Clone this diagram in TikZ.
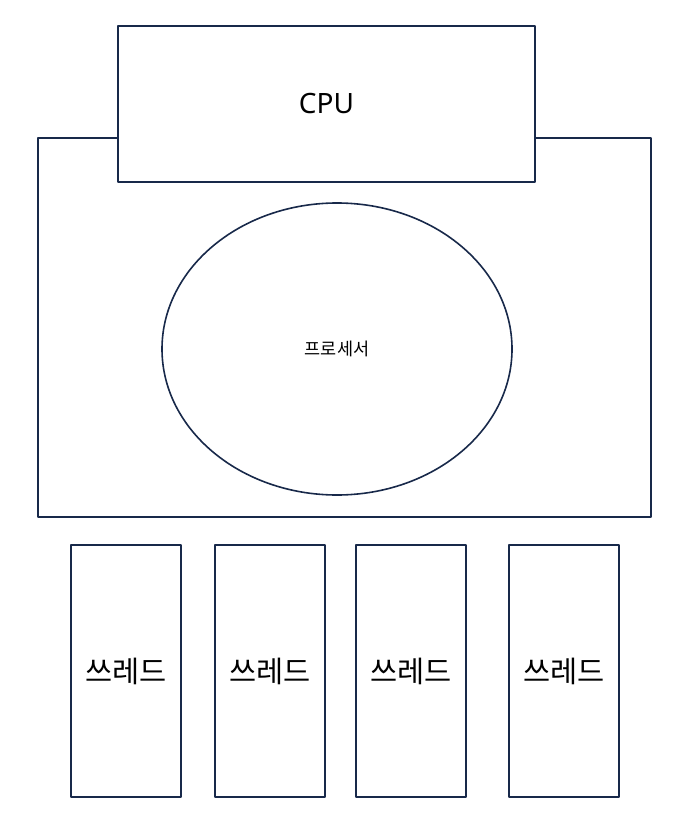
\documentclass[tikz,border=0pt]{standalone}
\usepackage{fontspec}
\setmainfont{Noto Sans}
\newfontfamily\kr{Noto Sans CJK KR}
\usetikzlibrary{shapes.geometric}
\definecolor{navy}{HTML}{18294A}
\tikzset{
  every picture/.style={line join=round, line cap=round},
  box/.style={draw=navy, line width=1.6pt, rectangle, inner sep=0pt},
  threadbox/.style={box, minimum width=110pt, minimum height=252pt, font=\kr\fontsize{29.5}{34}\selectfont},
}

\begin{document}
\begin{tikzpicture}[x=1pt,y=-1pt]
\useasboundingbox (0,0) rectangle (687,813);
\node[box, minimum width=613pt, minimum height=379pt] (mem) at (344.5,327.5) {};
\node[box, fill=white, minimum width=417pt, minimum height=156pt, font=\fontsize{28}{32}\selectfont] (cpu) at (326.5,104) {CPU};
\node[draw=navy, line width=1.6pt, ellipse, inner sep=0pt, minimum width=350pt, minimum height=292pt, font=\kr\fontsize{17.5}{21}\selectfont] (proc) at (337,349) {프로세서};
\node[threadbox] (t1) at (126,671) {쓰레드};
\node[threadbox] (t2) at (270,671) {쓰레드};
\node[threadbox] (t3) at (411,671) {쓰레드};
\node[threadbox] (t4) at (564,671) {쓰레드};
\end{tikzpicture}
\end{document}
